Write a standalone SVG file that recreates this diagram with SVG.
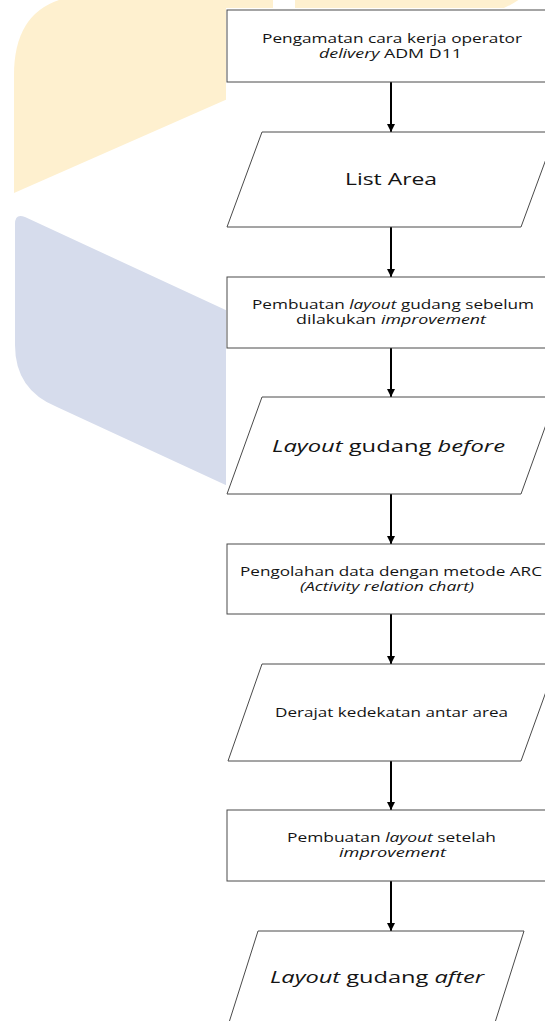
<svg xmlns="http://www.w3.org/2000/svg" width="545" height="1021" viewBox="0 0 545 1021">
<defs>
<style>
.bgy{fill:#FEF0CF;}
.bgb{fill:#D6DCEC;}
.shape{fill:#ffffff;stroke:#4a4a4a;stroke-width:1;}
.t{font-family:"Open Sans","DejaVu Sans",sans-serif;font-size:12.5px;fill:#141414;text-anchor:middle;}
.tl{font-family:"Open Sans","DejaVu Sans",sans-serif;font-size:16px;fill:#141414;text-anchor:middle;}
.i{font-style:italic;}
.conn{stroke:#000;stroke-width:2;fill:none;marker-end:url(#ah);}
</style>
<marker id="ah" viewBox="0 0 10 10" refX="10" refY="5" markerWidth="4" markerHeight="4" orient="auto" markerUnits="strokeWidth">
<path d="M0,0 L10,5 L0,10 Z" fill="#000"/>
</marker>
</defs>
<rect width="545" height="1021" fill="#ffffff"/>
<g id="background">
<path class="bgy" d="M14,193 L14,75 Q14,-5 94,-5 L273,-5 L273,79 Z"/>
<path class="bgy" d="M295,-5 L525,-5 Q512,6 490,14 L295,14 Z"/>
<path class="bgb" d="M15,224 Q15,213 25,217 L230,312 L230,487 L57,407 Q15,390 15,345 Z"/>
<rect x="226" y="8" width="330" height="1020" fill="#ffffff"/>
</g>
<g id="connectors">
<line class="conn" x1="391" y1="82" x2="391" y2="132"/>
<line class="conn" x1="391" y1="227" x2="391" y2="277"/>
<line class="conn" x1="391" y1="348" x2="391" y2="397"/>
<line class="conn" x1="391" y1="494" x2="391" y2="544"/>
<line class="conn" x1="391" y1="614" x2="391" y2="664"/>
<line class="conn" x1="391" y1="761" x2="391" y2="810"/>
<line class="conn" x1="391" y1="881" x2="391" y2="931"/>
</g>
<g id="node1">
<rect class="shape" x="227" y="10" width="330" height="72"/>
<text class="t" x="392" y="43" textLength="260" lengthAdjust="spacingAndGlyphs">Pengamatan cara kerja operator</text>
<text class="t" x="390.5" y="58" textLength="143" lengthAdjust="spacingAndGlyphs"><tspan class="i">delivery</tspan> ADM D11</text>
</g>
<g id="node2">
<polygon class="shape" points="262,132 556,132 521,227 227,227"/>
<text class="tl" x="391" y="185" textLength="92" lengthAdjust="spacingAndGlyphs">List Area</text>
</g>
<g id="node3">
<rect class="shape" x="227" y="277" width="330" height="71"/>
<text class="t" x="393" y="309" textLength="282" lengthAdjust="spacingAndGlyphs">Pembuatan <tspan class="i">layout</tspan> gudang sebelum</text>
<text class="t" x="391" y="324" textLength="190" lengthAdjust="spacingAndGlyphs">dilakukan <tspan class="i">improvement</tspan></text>
</g>
<g id="node4">
<polygon class="shape" points="262,397 556,397 521,494 227,494"/>
<text class="tl" x="388.5" y="452" textLength="233" lengthAdjust="spacingAndGlyphs"><tspan class="i">Layout</tspan> gudang <tspan class="i">before</tspan></text>
</g>
<g id="node5">
<rect class="shape" x="227" y="544" width="330" height="70"/>
<text class="t" x="391" y="576" textLength="302" lengthAdjust="spacingAndGlyphs">Pengolahan data dengan metode ARC</text>
<text class="t i" x="387" y="591" textLength="174" lengthAdjust="spacingAndGlyphs">(Activity relation chart)</text>
</g>
<g id="node6">
<polygon class="shape" points="262,664 556,664 521,761 228,761"/>
<text class="t" x="391.5" y="717" textLength="233" lengthAdjust="spacingAndGlyphs">Derajat kedekatan antar area</text>
</g>
<g id="node7">
<rect class="shape" x="227" y="810" width="330" height="71"/>
<text class="t" x="391.5" y="842" textLength="209" lengthAdjust="spacingAndGlyphs">Pembuatan <tspan class="i">layout</tspan> setelah</text>
<text class="t i" x="392.5" y="857" textLength="107" lengthAdjust="spacingAndGlyphs">improvement</text>
</g>
<g id="node8">
<polygon class="shape" points="258,931 524,931 492,1032 226,1032"/>
<text class="tl" x="377" y="983" textLength="214" lengthAdjust="spacingAndGlyphs"><tspan class="i">Layout</tspan> gudang <tspan class="i">after</tspan></text>
</g>
</svg>
